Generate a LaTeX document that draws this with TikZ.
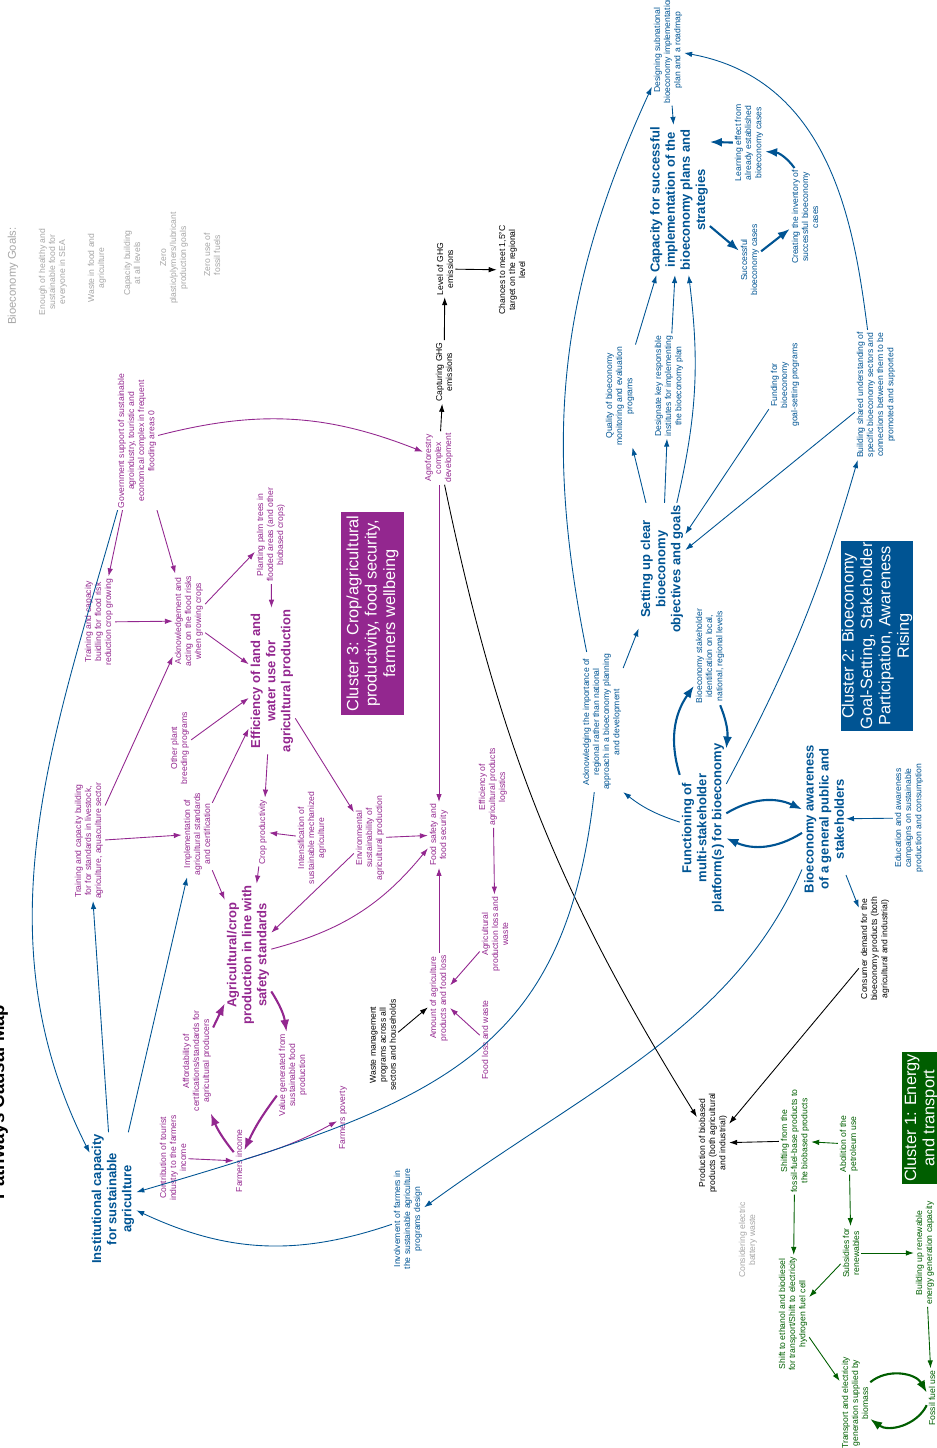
\documentclass[tikz,border=0pt]{standalone}
\usepackage{fontspec}
\setmainfont{Liberation Sans}
\usepackage{tikz}
\usetikzlibrary{arrows.meta,positioning}
\definecolor{cPurple}{RGB}{147,39,143}
\definecolor{cBlue}{RGB}{0,84,147}
\definecolor{cGreen}{RGB}{0,94,0}
\definecolor{cGrey}{RGB}{166,166,166}
\newcommand{\fsmall}{\fontsize{4.9pt}{5.7pt}\selectfont}
\newcommand{\fbold}{\fontsize{7.4pt}{8.6pt}\selectfont\bfseries}
\newcommand{\fcluster}{\fontsize{9.3pt}{10.5pt}\selectfont}
\tikzset{
  every node/.style={rotate=90,align=center,inner sep=1pt},
  kbox/.style={font=\fsmall,text=black},
  pbox/.style={font=\fsmall,text=cPurple},
  bbox/.style={font=\fsmall,text=cBlue},
  gbox/.style={font=\fsmall,text=cGreen},
  goal/.style={font=\fsmall,text=cGrey},
  phead/.style={font=\fbold,text=cPurple},
  bhead/.style={font=\fbold,text=cBlue},
  cluster/.style={font=\fcluster,text=white,inner sep=0pt},
  arr/.style={-{Latex[length=1.6mm,width=1.1mm]},line width=0.5pt},
  thk/.style={-{Latex[length=2.4mm,width=1.8mm]},line width=1.2pt},
  kline/.style={arr,draw=black},
  pline/.style={arr,draw=cPurple},
  bline/.style={arr,draw=cBlue},
  gline/.style={arr,draw=cGreen},
}

\begin{document}
\begin{tikzpicture}[x=0.2mm,y=0.2mm]
  \useasboundingbox (0,-1448) rectangle (936,0);

  \node[font=\fontsize{10.6pt}{12pt}\selectfont\bfseries,anchor=base] (title) at (4,-1102) {Pathways Causal Map};

  % goals
  \node[goal,font=\fontsize{6.4pt}{7.5pt}\selectfont] (goals) at (13,-276) {Bioeconomy Goals:};
  \node[goal] (goal1) at (53,-272) {Enough of healthy and\\sustainable food for\\everyone in SEA};
  \node[goal] (goal2) at (97,-268) {Waste in food and\\agriculture};
  \node[goal] (goal3) at (132,-263) {Capacity building\\at all levels};
  \node[goal] (goal4) at (174,-258) {Zero\\plastic/plymers/lubricant\\production goals};
  \node[goal] (goal5) at (212,-255) {Zero use of\\fossil fuels};

  % clusters
  \node[cluster,fill=cPurple,minimum width=40.6mm,minimum height=12.6mm] (clthree) at (372.5,-613.5) {Cluster 3: Crop/agricultural\\productivity, food security,\\farmers wellbeing};
  \node[cluster,fill=cBlue,minimum width=38mm,minimum height=14.4mm] (cltwo) at (877,-636) {Cluster 2: Bioeconomy\\Goal-Setting, Stakeholder\\Participation, Awareness\\Rising};
  \node[cluster,fill=cGreen,minimum width=26.4mm,minimum height=7.8mm] (clone) at (921,-1118) {Cluster 1: Energy\\and transport};

  % black
  \node[kbox] (ghgcap) at (444,-372) {Capturing GHG\\emissions};
  \node[kbox] (ghglvl) at (445,-269) {Level of GHG\\emissions};
  \node[kbox] (chances) at (512,-270) {Chances to meet 1,5°C\\target on the regional\\level};
  \node[kbox] (wastemgmt) at (383,-1045) {Waste management\\programs across all\\sectors and households};
  \node[kbox] (prod) at (713,-1143) {Production of biobased\\products (both agricultural\\and industrial)};
  \node[kbox] (consumer) at (875,-949) {Consumer demand for the\\bioeconomy products (both\\agricultural and industrial)};

  % cluster 3
  \node[pbox] (govsup) at (137,-441) {Government support of sustainable\\agroindustry, touristic and\\economical complex in frequent\\flooding areas 0};
  \node[pbox] (trflood) at (99,-622) {Training and capacity\\buidling for flood risk\\reduction crop growing};
  \node[pbox] (ackflood) at (189,-621) {Acknowledgement and\\acting on the flood risks\\when growing crops};
  \node[pbox] (palm) at (271,-535) {Planting palm trees in\\flooded areas (and other\\biobased crops)};
  \node[phead] (landwater) at (272,-681) {Efficiency of land and\\water use for\\agricultural production};
  \node[pbox] (breeding) at (180,-748) {Other plant\\breeding programs};
  \node[pbox] (trstand) at (89,-841) {Training and capacity building\\for for standards in livestock,\\agriculture, aquaculture sector};
  \node[pbox] (standards) at (197,-834) {Implementation of\\agricultural standards\\and certification};
  \node[pbox] (cropprod) at (263,-832) {Crop productivity};
  \node[pbox] (mechan) at (312,-838) {Intensification of\\sustainable mechanized\\agriculture};
  \node[pbox] (envsust) at (370,-838) {Environmental\\sustainability of\\agricultural production};
  \node[pbox] (agroforest) at (439,-458) {Agroforestry\\complex\\development};
  \node[pbox] (foodsec) at (439,-835) {Food safety and\\food security};
  \node[pbox] (logistics) at (493,-787) {Efficiency of\\agricultural products\\logistics};
  \node[pbox] (prodloss) at (495,-934) {Agricultural\\production loss and\\waste};
  \node[pbox] (amount) at (439,-998) {Amount of agriculture\\products and food loss};
  \node[pbox] (foodloss) at (485,-1040) {Food loss and waste};
  \node[phead] (safeprod) at (248,-955) {Agricultural/crop\\production in line with\\safety standards};
  \node[pbox] (valuegen) at (293,-1075) {Value generated from\\sustainable food\\production};
  \node[pbox] (afford) at (197,-1061) {Affordability of\\certifications/standards for\\agricultural producers};
  \node[pbox] (income) at (239,-1161) {Farmers income};
  \node[pbox] (tourist) at (173,-1158) {Contribution of tourist\\industry to the farmers\\income};
  \node[pbox] (poverty) at (343,-1118) {Farmers poverty};

  % cluster 2
  \node[bhead] (instcap) at (113,-1199) {Institutional capacity\\for sustainable\\agriculture};
  \node[bbox] (involve) at (408,-1219) {Involvement of farmers in\\the sustainable agriculture\\programs design};
  \node[bbox] (regional) at (602,-722) {Acknowledging the importance of\\regional rather than national\\approach in a bioeconomy planning\\and development};
  \node[bbox] (roadmap) at (668,-50) {Designing subnational\\bioeconomy implementation\\plan and a roadmap};
  \node[bhead] (implcap) at (679,-200) {Capacity for successful\\implementation of the\\bioeconomy plans and\\strategies};
  \node[bbox] (cases) at (750,-260) {Successful\\bioeconomy cases};
  \node[bbox] (inventory) at (805,-217) {Creating the inventory of\\successful bioeconomy\\cases};
  \node[bbox] (learning) at (749,-143) {Learning effect from\\already established\\bioeconomy cases};
  \node[bbox] (quality) at (620,-396) {Quality of bioeconomy\\monitoring and evaluation\\programs};
  \node[bbox] (designate) at (669,-386) {Designate key responsible\\institutes for implementing\\the bioeconomy plan};
  \node[bbox] (funding) at (785,-385) {Funding for\\bioeconomy\\goal-setting programs};
  \node[bbox] (shared) at (876,-395) {Building shared understanding of\\specific bioeconomy sectors and\\connections between them to be\\promoted and supported};
  \node[bhead] (goalset) at (662,-569) {Setting up clear\\bioeconomy\\objectives and goals};
  \node[bbox] (stakeid) at (710,-656) {Bioeconomy stakeholder\\identification on local,\\national, regional levels};
  \node[bhead] (platform) at (703,-828) {Functioning of\\multi-stakeholder\\platform(s) for bioeconomy};
  \node[bhead] (awareness) at (824,-819) {Bioeconomy awareness\\of a general public and\\stakeholders};
  \node[bbox] (campaign) at (909,-818) {Education and awareness\\campaigns on sustainable\\production and consumption};

  % cluster 1
  \node[gbox] (shifting) at (795,-1141) {Shifting from the\\fossil-fuel-base products to\\the biobased products};
  \node[gbox] (petrol) at (849,-1144) {Abolition of the\\petroleum use};
  \node[goal] (battery) at (748,-1240) {Considering electric\\battery waste};
  \node[gbox] (subsidy) at (851,-1253) {Subsidies for\\renewables};
  \node[gbox] (renewcap) at (925,-1253) {Building up renewable\\energy generation capacity};
  \node[gbox] (biofuel) at (793,-1314) {Shift to ethanol and biodiesel\\for transport/Shift to electricity\\hydrogen fuel cell};
  \node[gbox] (biomass) at (855,-1403) {Transport and electricity\\generation supplied by\\biomass};
  \node[gbox] (fossil) at (932,-1398) {Fossil fuel use};

  % links
  \draw[kline] (ghgcap) -- (ghglvl);
  \draw[kline] (ghglvl) -- (chances);
  \draw[kline] (agroforest) -- (ghgcap);
  \draw[kline] (agroforest) to[bend right=10] (prod);
  \draw[kline] (wastemgmt) -- (amount);
  \draw[kline] (consumer) -- (prod);
  \draw[kline] (shifting) -- (prod);

  \draw[pline] (govsup) -- (trflood);
  \draw[pline] (govsup) -- (ackflood);
  \draw[pline] (govsup) to[bend left=18] (agroforest);
  \draw[pline] (trflood) -- (ackflood);
  \draw[pline] (ackflood) -- (palm);
  \draw[pline] (ackflood) -- (landwater);
  \draw[pline] (palm) -- (landwater);
  \draw[pline] (breeding) -- (landwater);
  \draw[pline] (trstand) -- (ackflood);
  \draw[pline] (trstand) -- (standards);
  \draw[pline] (standards) -- (landwater);
  \draw[pline] (standards) -- (safeprod);
  \draw[pline] (landwater) -- (cropprod);
  \draw[pline] (mechan) -- (cropprod);
  \draw[pline] (cropprod) -- (safeprod);
  \draw[pline] (landwater) -- (envsust);
  \draw[pline] (envsust) -- (foodsec);
  \draw[pline] (envsust) -- (safeprod);
  \draw[pline] (safeprod) to[bend right=18] (foodsec);
  \draw[pline] (agroforest) -- (foodsec);
  \draw[pline] (amount) -- (foodsec);
  \draw[pline] (logistics) -- (prodloss);
  \draw[pline] (prodloss) -- (amount);
  \draw[pline] (foodloss) -- (amount);
  \draw[pline,thk] (safeprod) to[bend left=12] (valuegen);
  \draw[pline,thk] (valuegen) to[bend right=6] (income);
  \draw[pline,thk] (income) to[bend left=8] (afford);
  \draw[pline,thk] (afford) -- (safeprod);
  \draw[pline] (tourist) -- (income);
  \draw[pline] (income) to[bend right=6] (poverty);

  \draw[bline] (govsup) to[out=250,in=112] (instcap);
  \draw[bline] (instcap) -- (trstand);
  \draw[bline] (instcap) -- (standards);
  \draw[bline] (regional) to[out=260,in=5,looseness=1.3] (instcap);
  \draw[bline] (involve) to[bend left=22] (instcap);
  \draw[bline] (awareness) to[out=240,in=27] (involve);
  \draw[bline] (regional) to[bend left=18] (roadmap);
  \draw[bline] (shared) to[out=90,in=-24] (roadmap);
  \draw[bline] (roadmap) -- (implcap);
  \draw[bline,thk] (implcap) -- (cases);
  \draw[bline,thk] (cases) -- (inventory);
  \draw[bline,thk] (inventory) to[bend right=25] (learning);
  \draw[bline,thk] (learning) -- (implcap.-28);
  \draw[bline] (goalset) -- (quality);
  \draw[bline] (quality) -- (implcap);
  \draw[bline] (goalset) -- (designate);
  \draw[bline] (designate) -- (implcap);
  \draw[bline] (goalset) to[bend right=10] (implcap);
  \draw[bline] (funding) -- (goalset);
  \draw[bline] (shared) -- (goalset);
  \draw[bline] (platform) to[bend right=6] (shared);
  \draw[bline] (regional) -- (goalset);
  \draw[bline] (platform) to[bend left=10] (regional.south west);
  \draw[bline,thk] (platform) to[bend left=26] (stakeid);
  \draw[bline,thk] (stakeid) to[bend left=14] (platform);
  \draw[bline,thk] (platform) to[bend left=28] (awareness);
  \draw[bline,thk] (awareness) to[bend left=28] (platform);
  \draw[bline] (campaign) -- (awareness);
  \draw[bline] (awareness) -- (consumer);

  \draw[gline] (petrol) -- (shifting);
  \draw[gline] (petrol) -- (subsidy);
  \draw[gline] (shifting) -- (biofuel);
  \draw[gline] (subsidy) -- (renewcap);
  \draw[gline] (renewcap) -- (fossil);
  \draw[gline] (subsidy) -- (biofuel);
  \draw[gline] (biofuel) -- (biomass);
  \draw[gline,thk] (biomass) to[bend left=50] (fossil);
  \draw[gline,thk] (fossil) to[bend left=50] (biomass);
\end{tikzpicture}
\end{document}
